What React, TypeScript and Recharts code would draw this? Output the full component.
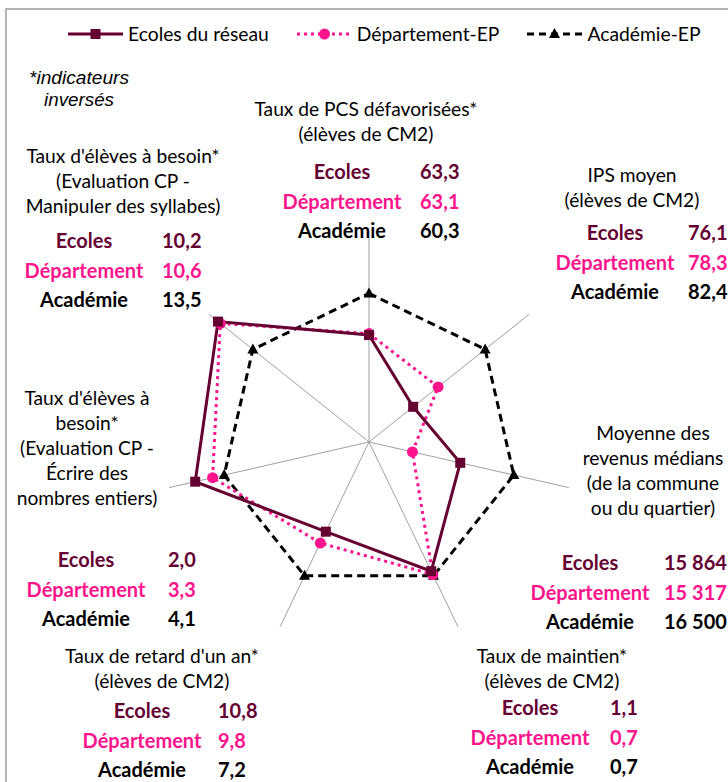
import { RadarChart, Radar, PolarGrid, PolarAngleAxis, PolarRadiusAxis, Legend } from "recharts"

// axes, clockwise from the top
const indicators = ["PCS", "IPS", "Revenus", "Maintien", "Retard", "Ecrire", "Syllabes"]

// index plotted on each spoke (Académie = 100)
const ecoles = [72, 38, 63, 96.5, 67, 120, 130]
const departement = [73, 59.5, 30, 99, 75.5, 108, 128]
const academie = [100, 100, 100, 100, 100, 100, 100]

// texts of the label blocks
const titles = [
  ["Taux de PCS défavorisées*", "(élèves de CM2)"],
  ["IPS moyen", "(élèves de CM2)"],
  ["Moyenne des", "revenus médians", "(de la commune", "ou du quartier)"],
  ["Taux de maintien*", "(élèves de CM2)"],
  ["Taux de retard d'un an*", "(élèves de CM2)"],
  ["Taux d'élèves à", "besoin*", "(Evaluation CP -", "Écrire des", "nombres entiers)"],
  ["Taux d'élèves à besoin*", "(Evaluation CP -", "Manipuler des syllabes)"],
]
const ecolesText = ["63,3", "76,1", "15 864", "1,1", "10,8", "2,0", "10,2"]
const departementText = ["63,1", "78,3", "15 317", "0,7", "9,8", "3,3", "10,6"]
const academieText = ["60,3", "82,4", "16 500", "0,7", "7,2", "4,1", "13,5"]
const rowNames = ["Ecoles", "Département", "Académie"]

const MAROON = "#660033"
const PINK = "#FF148C"
const BLACK = "#000000"
const FONT = "Lato, 'Open Sans', sans-serif"

const data = indicators.map((name, i) => ({
  name,
  ecoles: ecoles[i],
  departement: departement[i],
  academie: academie[i],
}))

// where each label block sits
const blocks = [
  { titleX: 366, titleY: 108, nameX: 342, valX: 420, rowY: 171 },
  { titleX: 632, titleY: 174, nameX: 615, valX: 688, rowY: 232 },
  { titleX: 653, titleY: 432, nameX: 590, valX: 664, rowY: 562 },
  { titleX: 552, titleY: 655, nameX: 530, valX: 610, rowY: 707 },
  { titleX: 162, titleY: 655, nameX: 142, valX: 218, rowY: 710 },
  { titleX: 87, titleY: 397, nameX: 86, valX: 168, rowY: 559 },
  { titleX: 123, titleY: 155, nameX: 84, valX: 162, rowY: 240 },
]

const squareDot = (props: any) => {
  const { cx, cy, index } = props
  return <rect key={`sq-${index}`} x={cx - 5} y={cy - 5} width={10} height={10} fill={MAROON} />
}
const circleDot = (props: any) => {
  const { cx, cy, index } = props
  return <circle key={`ci-${index}`} cx={cx} cy={cy} r={5.5} fill={PINK} />
}
const triangleDot = (props: any) => {
  const { cx, cy, index } = props
  return <path key={`tr-${index}`} d={`M${cx},${cy - 6} L${cx + 5.5},${cy + 4} L${cx - 5.5},${cy + 4} Z`} fill={BLACK} />
}

const legendItems = [
  { label: "Ecoles du réseau", color: MAROON, dash: undefined, marker: "square" },
  { label: "Département-EP", color: PINK, dash: "3 4", marker: "circle" },
  { label: "Académie-EP", color: BLACK, dash: "7 5", marker: "triangle" },
]

function LegendContent() {
  return (
    <div style={{ display: "flex", alignItems: "center", paddingLeft: 68, fontFamily: FONT, fontSize: 19.3, whiteSpace: "nowrap" }}>
      {legendItems.map((it) => (
        <div key={it.label} style={{ display: "flex", alignItems: "center", marginRight: 28, flexShrink: 0 }}>
          <svg width={55} height={16}>
            <line x1={0} y1={8} x2={55} y2={8} stroke={it.color} strokeWidth={3} strokeDasharray={it.dash} />
            {it.marker === "square" && <rect x={22.5} y={3} width={10} height={10} fill={it.color} />}
            {it.marker === "circle" && <circle cx={27.5} cy={8} r={5.5} fill={it.color} />}
            {it.marker === "triangle" && <path d="M27.5,2 L33,12 L22,12 Z" fill={it.color} />}
          </svg>
          <span style={{ marginLeft: 5, color: "#000" }}>{it.label}</span>
        </div>
      ))}
    </div>
  )
}

export default function App() {
  const rowColors = [MAROON, PINK, BLACK]
  const rowTexts = [ecolesText, departementText, academieText]
  return (
    <div style={{ position: "absolute", left: 0, top: 0, width: 728, height: 782, overflow: "hidden", background: "#fff" }}>
      <div style={{ position: "absolute", left: 5, top: 8, width: 900, height: 900, border: "2px solid #b4b4b4" }} />
      <div style={{ position: "absolute", left: 0, top: 0 }}>
        <RadarChart width={728} height={782} data={data} cx={369} cy={442} outerRadius={205}>
          <PolarGrid polarRadius={[]} stroke="#a0a0a0" strokeWidth={1} />
          <PolarAngleAxis dataKey="name" tick={false} axisLine={false} />
          <PolarRadiusAxis domain={[0, 138]} tick={false} axisLine={false} />
          <Radar
            name="Académie-EP"
            dataKey="academie"
            stroke={BLACK}
            strokeWidth={3}
            strokeDasharray="8 5"
            fill="none"
            fillOpacity={0}
            dot={triangleDot}
            isAnimationActive={false}
          />
          <Radar
            name="Département-EP"
            dataKey="departement"
            stroke={PINK}
            strokeWidth={3}
            strokeDasharray="3 4"
            fill="none"
            fillOpacity={0}
            dot={circleDot}
            isAnimationActive={false}
          />
          <Radar
            name="Ecoles du réseau"
            dataKey="ecoles"
            stroke={MAROON}
            strokeWidth={3}
            fill="none"
            fillOpacity={0}
            dot={squareDot}
            isAnimationActive={false}
          />
          <Legend verticalAlign="top" content={<LegendContent />} wrapperStyle={{ top: 22, left: 0, width: 728 }} />
        </RadarChart>
      </div>
      <svg width={728} height={782} style={{ position: "absolute", left: 0, top: 0, pointerEvents: "none" }}>
        <g fontFamily="'Liberation Sans', Arial, sans-serif" fontStyle="italic" fontSize={18}>
          <text x={79} y={78} textAnchor="middle" dominantBaseline="central" textLength={100} lengthAdjust="spacingAndGlyphs">
            *indicateurs
          </text>
          <text x={79} y={100} textAnchor="middle" dominantBaseline="central" textLength={70} lengthAdjust="spacingAndGlyphs">
            inversés
          </text>
        </g>
        {blocks.map((b, i) => (
          <g key={indicators[i]} fontFamily={FONT}>
            {titles[i].map((line, j) => (
              <text key={j} x={b.titleX} y={b.titleY + j * 25} textAnchor="middle" dominantBaseline="central" fill="#000" fontSize={19.2}>
                {line}
              </text>
            ))}
            {rowNames.map((rn, r) => (
              <g key={rn} fontWeight="bold" fill={rowColors[r]} fontSize={20}>
                <text x={b.nameX} y={b.rowY + r * 29.5} textAnchor="middle" dominantBaseline="central">
                  {rn}
                </text>
                <text x={b.valX} y={b.rowY + r * 29.5} textAnchor="start" dominantBaseline="central">
                  {rowTexts[r][i]}
                </text>
              </g>
            ))}
          </g>
        ))}
      </svg>
    </div>
  )
}
